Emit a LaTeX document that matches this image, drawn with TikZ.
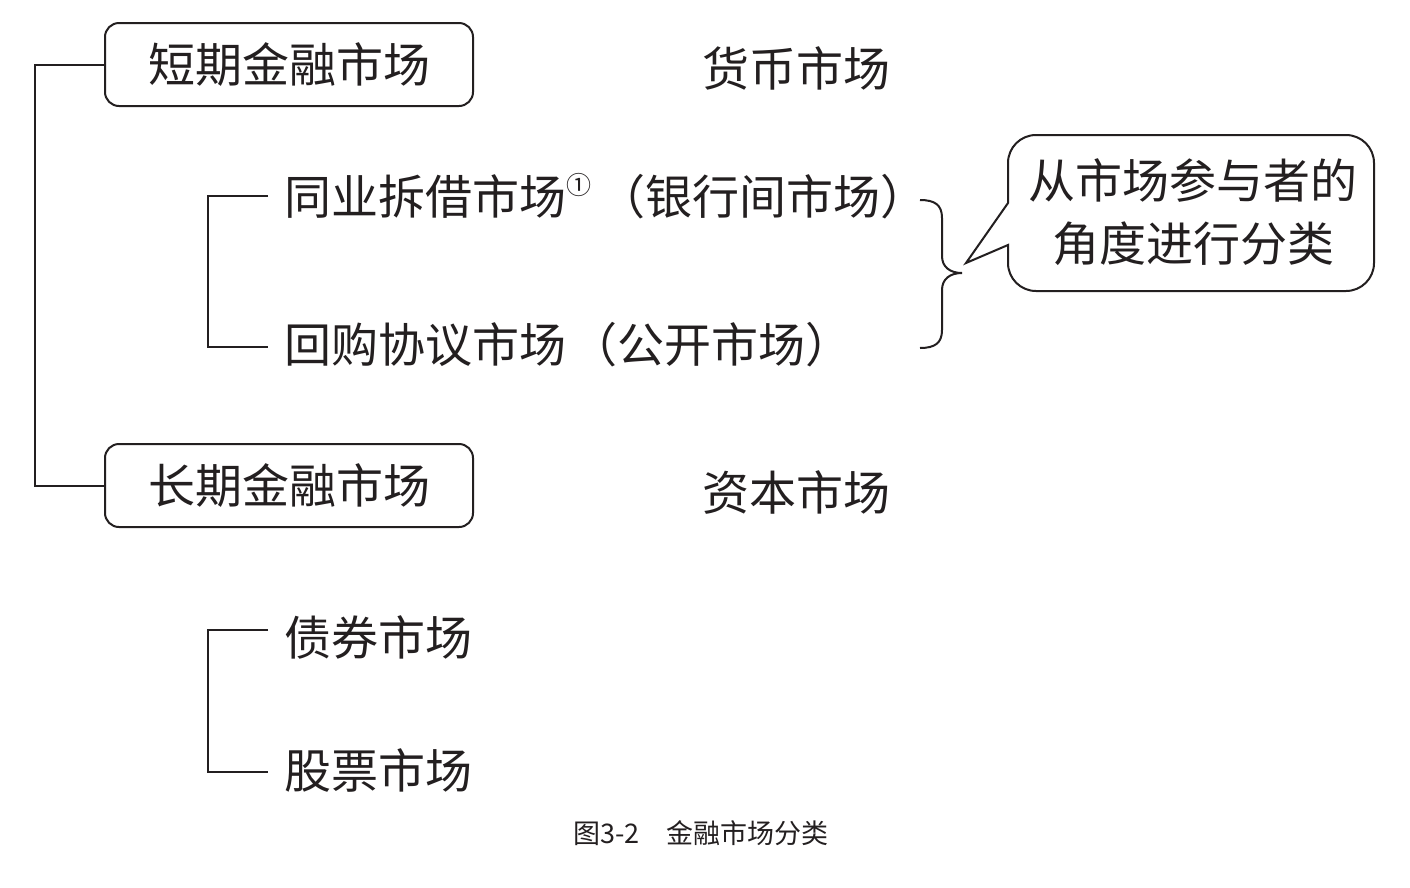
\documentclass[tikz,border=0pt]{standalone}
\usepackage{fontspec}
\newfontfamily\cjk{Noto Sans CJK SC}
\definecolor{ink}{HTML}{231F20}
\begin{document}
\begin{tikzpicture}[x=1pt,y=-1pt,
  line width=2pt, draw=ink,
  every node/.style={text=ink, font=\cjk\fontsize{47}{56}\selectfont},
  catbox/.style={draw=ink, rounded corners=14pt, minimum width=368pt, minimum height=83pt, inner sep=0pt},
  item/.style={anchor=west, inner sep=0pt},
  plain/.style={inner sep=0pt}]
\useasboundingbox[fill=white] (0,0) rectangle (1410,887);

% category boxes
\node[catbox] (short) at (289,64.5) {短期金融市场};
\node[catbox] (long) at (289,485.5) {长期金融市场};
\node[plain] (money) at (796,68) {货币市场};
\node[plain] (capital) at (796,492) {资本市场};

% left connector
\coordinate (lx) at (35,0);
\draw[ink] (short.west) -- (short.west -| lx) -- (long.west -| lx) -- (long.west);

% short-term items
\node[item] (interbank) at (283,196) {同业拆借市场\raisebox{0.42em}{\fontsize{25}{25}\selectfont ①}\hspace{0.15em}（银行间市场）};
\node[item] (repo) at (283,345) {回购协议市场\hspace{0.1em}（公开市场）};
\coordinate (b1) at (208,0);
\coordinate (e1) at (268,196);
\coordinate (e2) at (268,347);
\draw[ink] (e1) -- (e1 -| b1) -- (e2 -| b1) -- (e2);

% long-term items
\node[item] (bond) at (283,637) {债券市场};
\node[item] (stock) at (283,770) {股票市场};
\coordinate (e3) at (268,630);
\coordinate (e4) at (268,772);
\draw[ink] (e3) -- (e3 -| b1) -- (e4 -| b1) -- (e4);

% brace
\coordinate (bt) at (920,200);
\coordinate (bm) at (962,273);
\coordinate (bb) at (920,348);
\draw[ink, line width=2pt] (bt) .. controls (935,200) and (942,205) .. (942,218) -- (942,256)
  .. controls (942,267) and (950,273) .. (bm)
  .. controls (950,273) and (942,279) .. (942,290) -- (942,330)
  .. controls (942,343) and (935,348) .. (bb);

% callout
\node[plain, align=center, font=\cjk\fontsize{47}{63}\selectfont] (note) at (1193,212) {从市场参与者的\\角度进行分类};
\coordinate (tip) at (966,263);
\draw[ink, rounded corners=28pt] (1008,203) -- (1008,135) -- (1374,135) -- (1374,291) -- (1008,291) [sharp corners] -- (1008,245) -- (tip) -- cycle;

% caption
\node[plain, font=\cjk\fontsize{27}{31}\selectfont] (cap) at (701,833) {图3-2\hspace{1em}金融市场分类};
\end{tikzpicture}
\end{document}
